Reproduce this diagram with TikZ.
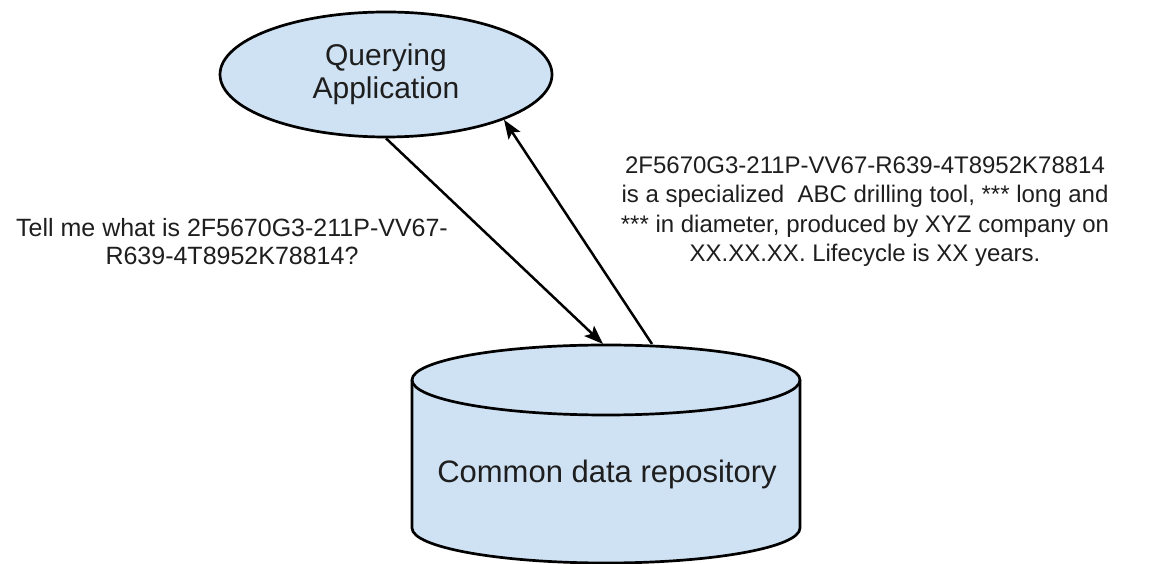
\documentclass[tikz,border=0pt]{standalone}
\usepackage{fontspec}
\setmainfont{Liberation Sans}
\usetikzlibrary{shapes.geometric,arrows.meta}
\definecolor{shapefill}{HTML}{CFE2F3}
\definecolor{inkgray}{HTML}{1E1E1E}
\tikzset{
  shapeline/.style={draw=black, line width=2.7pt, fill=shapefill},
  flow/.style={draw=black, line width=2.5pt, -{Stealth[length=19pt,width=14pt,inset=4pt]}},
  label/.style={text=inkgray, align=center, inner sep=0pt,
    font=\fontsize{24}{29.5}\selectfont},
}
\begin{document}
\begin{tikzpicture}[x=1pt,y=1pt]
  \useasboundingbox (0,0) rectangle (1158,564);

  % application ellipse
  \node[shapeline, ellipse, inner sep=0pt, minimum width=332pt, minimum height=125pt,
        align=center, text=inkgray, font=\fontsize{30}{33}\selectfont]
    (query) at (386,489.5) {Querying\\Application};

  % repository cylinder: body, then the visible top rim
  \path[shapeline]
    (412,184) -- (412,36)
    arc[start angle=180, end angle=360, x radius=194, y radius=35]
    -- (800,184)
    arc[start angle=0, end angle=180, x radius=194, y radius=35] -- cycle;
  \draw[black, line width=2.7pt]
    (412,184) arc[start angle=180, end angle=360, x radius=194, y radius=35];
  \node[text=inkgray, inner sep=0pt, font=\fontsize{31}{36}\selectfont]
    (repo) at (607,90) {Common data repository};

  \coordinate (reqend) at (603,220);
  \coordinate (ansstart) at (652,220);

  % request and answer
  \draw[flow] (query.south) -- (reqend);
  \draw[flow] (ansstart) -- (query.-21.7);

  \node[label, font=\fontsize{25}{28}\selectfont] (question) at (232,322)
    {Tell me what is 2F5670G3-211P-VV67-\\R639-4T8952K78814?};
  \node[label] (answer) at (865,352.5)
    {2F5670G3-211P-VV67-R639-4T8952K78814\\
     is a specialized\ \ ABC drilling tool, *** long and\\
     *** in diameter, produced by XYZ company on\\
     XX.XX.XX. Lifecycle is XX years.};
\end{tikzpicture}
\end{document}
